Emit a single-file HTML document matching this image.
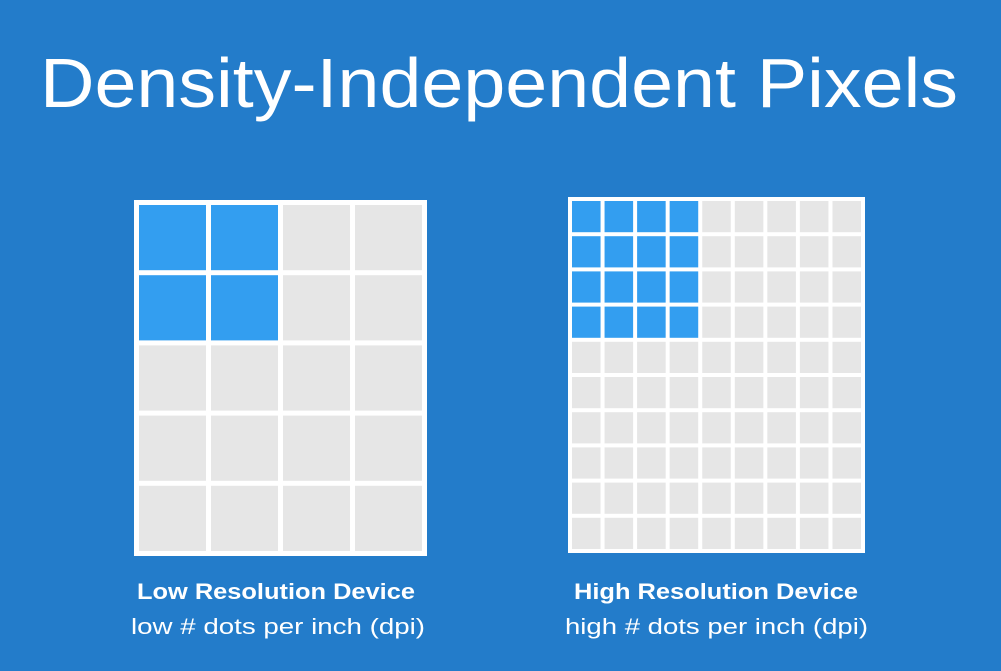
<!DOCTYPE html>
<html><head><meta charset="utf-8"><style>
html,body{margin:0;padding:0;background:#237cca;}
svg{display:block}
</style></head><body>
<svg width="1001" height="671" viewBox="0 0 1001 671">
<rect x="0" y="0" width="1001" height="671" fill="#237cca"/>
<text x="40" y="107" font-family="Liberation Sans, sans-serif" font-size="70" fill="#fff" textLength="918" lengthAdjust="spacingAndGlyphs">Density-Independent Pixels</text>
<g id="grids"></g>
<text x="137" y="599" font-family="Liberation Sans, sans-serif" font-weight="bold" font-size="22" fill="#fff" textLength="278" lengthAdjust="spacingAndGlyphs">Low Resolution Device</text>
<text x="131" y="634" font-family="Liberation Sans, sans-serif" font-size="22" fill="#fff" textLength="294" lengthAdjust="spacingAndGlyphs">low # dots per inch (dpi)</text>
<text x="574" y="599" font-family="Liberation Sans, sans-serif" font-weight="bold" font-size="22" fill="#fff" textLength="284" lengthAdjust="spacingAndGlyphs">High Resolution Device</text>
<text x="565" y="634" font-family="Liberation Sans, sans-serif" font-size="22" fill="#fff" textLength="303" lengthAdjust="spacingAndGlyphs">high # dots per inch (dpi)</text>
</svg>
<script>
const gridCols = [4, 9];
const gridRows = [5, 10];
const litCols = [2, 4];
const litRows = [2, 4];
const NS = 'http://www.w3.org/2000/svg';
const boxes = [{x:134,y:200,w:293,h:356,pad:5,gap:5},{x:568,y:197,w:297,h:356,pad:4,gap:4}];
const g = document.getElementById('grids');
boxes.forEach((b, i) => {
  const bg = document.createElementNS(NS, 'rect');
  bg.setAttribute('x', b.x); bg.setAttribute('y', b.y); bg.setAttribute('width', b.w); bg.setAttribute('height', b.h); bg.setAttribute('fill', '#fff');
  
  
  g.appendChild(bg);
  const cw = (b.w - 2*b.pad - (gridCols[i]-1)*b.gap) / gridCols[i];
  const ch = (b.h - 2*b.pad - (gridRows[i]-1)*b.gap) / gridRows[i];
  for (let r = 0; r < gridRows[i]; r++) for (let c = 0; c < gridCols[i]; c++) {
    const el = document.createElementNS(NS, 'rect');
    el.setAttribute('x', b.x + b.pad + c*(cw + b.gap));
    el.setAttribute('y', b.y + b.pad + r*(ch + b.gap));
    el.setAttribute('width', cw); el.setAttribute('height', ch);
    const lit = r < litRows[i] && c < litCols[i];
    el.setAttribute('fill', lit ? '#339ef0' : '#e6e6e6');
    
    
    g.appendChild(el);
  }
});
</script>
</body></html>
